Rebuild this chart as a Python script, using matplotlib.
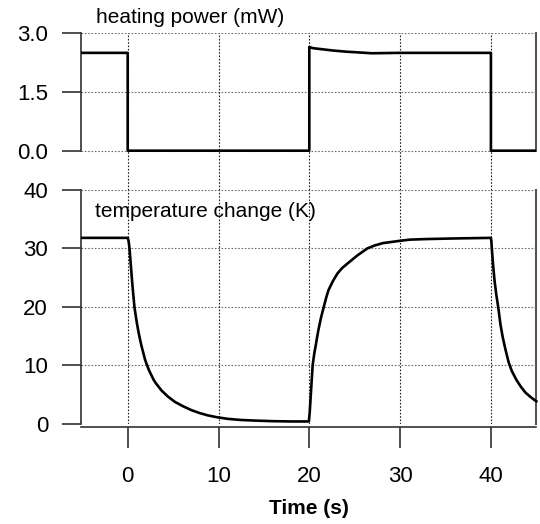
import matplotlib
matplotlib.use("Agg")
import matplotlib.pyplot as plt

plt.rcParams['font.family'] = ['Liberation Sans', 'DejaVu Sans']

# heating power (mW) vs time (s)
t_power = [-5, 0, 0, 20, 20, 20.4, 21.5, 22.6, 24.1, 26.9, 30, 35, 40, 40, 45]
power = [2.5, 2.5, 0, 0, 2.65, 2.62, 2.59, 2.56, 2.53, 2.49, 2.5, 2.5, 2.5, 0, 0]

# temperature change (K) vs time (s)
t_temp = [-5, -2, 0, 0.05, 0.12, 0.2, 0.3, 0.45, 0.6, 0.74, 0.88, 1.0, 1.15,
          1.29, 1.5, 1.7, 1.9, 2.1, 2.35, 2.6, 2.85, 3.1, 3.7, 4.4, 5.2, 6.1,
          7.0, 7.9, 8.8, 9.8, 11, 12.5, 14, 16, 18, 19.95,
          20.05, 20.2, 20.37, 20.55, 20.7, 20.85, 21.0, 21.3, 21.6, 21.85,
          22.1, 22.6, 23.1, 23.6, 24.2, 25.3, 26.4, 27.2, 28.1, 30, 31.1, 33,
          36, 40,
          40.05, 40.1, 40.25, 40.4, 40.6, 40.8, 41.05, 41.3, 41.6, 41.95,
          42.3, 42.8, 43.3, 43.8, 44.4, 45]
temp = [31.8, 31.8, 31.8, 31.6, 31.0, 30.0, 28.0, 25.0, 22.3, 20.0, 18.5,
        17.3, 16.0, 14.9, 13.4, 12.2, 11.0, 10.1, 9.1, 8.3, 7.5, 6.9, 5.7,
        4.65, 3.7, 2.95, 2.3, 1.8, 1.4, 1.08, 0.8, 0.6, 0.5, 0.4, 0.35, 0.35,
        2.0, 5.8, 10.0, 12.0, 13.3, 14.7, 16.0, 18.2, 20.0, 21.5,
        22.8, 24.4, 25.7, 26.6, 27.4, 28.8, 30.0, 30.5, 30.9, 31.3, 31.5, 31.6,
        31.7, 31.8,
        31.2, 30.0, 27.0, 24.5, 22.0, 20.0, 17.0, 14.8, 12.7, 10.5,
        9.0, 7.5, 6.3, 5.3, 4.5, 3.8]

x_ticks = [0, 10, 20, 30, 40]
power_ticks = [0, 1.5, 3.0]
power_labels = ['0.0', '1.5', '3.0']
temp_ticks = [0, 10, 20, 30, 40]

W, H = 540, 524
fs = 15
tick_fs = 16
axis_col = '#303030'
grid_style = dict(linestyle=(0, (1.5, 1.5)), linewidth=0.8, zorder=0)

fig = plt.figure(figsize=(W / 100, H / 100), dpi=100)
left = 81.4 / W
width = (536.3 - 81.4) / W
ax1 = fig.add_axes([left, (H - 190) / H, width, (190 - 33.3) / H])
ax2 = fig.add_axes([left, (H - 423.5) / H, width, (423.5 - 190) / H])

for ax in (ax1, ax2):
    ax.set_xlim(-5.1, 45.0)
    ax.spines['top'].set_visible(False)
    ax.spines['right'].set_color('#555555')
    ax.spines['right'].set_linewidth(1.5)
    ax.spines['left'].set_color(axis_col)
    ax.spines['left'].set_linewidth(1.2)
    ax.tick_params(axis='y', direction='out', length=14, width=1.2,
                   color=axis_col, pad=10, labelsize=tick_fs)
    ax.set_facecolor('none')

# top panel: heating power
ax1.set_ylim(-1.005, 3.0)
ax1.spines['bottom'].set_visible(False)
ax1.spines['left'].set_bounds(0, 3)
ax1.spines['right'].set_bounds(0, 3)
ax1.set_yticks(power_ticks)
ax1.set_yticklabels(power_labels)
ax1.set_xticks([])
for y in power_ticks:
    ax1.axhline(y, color='#707070', **grid_style)
for x in x_ticks:
    ax1.plot([x, x], [-1.005, 3.0], color='#222222', **grid_style)
ax1.plot(t_power, power, color='black', linewidth=1.9, zorder=3)
ax1.text(0.033, 1.0676, 'heating power (mW)', transform=ax1.transAxes,
         fontsize=fs, va='baseline', ha='left')

# bottom panel: temperature change
ax2.set_ylim(0, 40)
ax2.spines['left'].set_bounds(0, 40)
ax2.spines['right'].set_bounds(0, 40)
ax2.spines['bottom'].set_position(('outward', 2.5))
ax2.spines['bottom'].set_color(axis_col)
ax2.spines['bottom'].set_linewidth(1.2)
ax2.set_yticks(temp_ticks)
ax2.set_xticks(x_ticks)
ax2.tick_params(axis='x', direction='out', length=15, width=1.2,
                color=axis_col, pad=13, labelsize=tick_fs)
for y in temp_ticks[1:]:
    ax2.axhline(y, color='#707070', **grid_style)
for x in x_ticks:
    ax2.axvline(x, color='#222222', **grid_style)
ax2.plot(t_temp, temp, color='black', linewidth=1.9, zorder=3, clip_on=False)
ax2.text(0.030, 0.8857, 'temperature change (K)', transform=ax2.transAxes,
         fontsize=fs, va='baseline', ha='left')
ax2.set_xlabel('Time (s)', fontsize=fs, fontweight='bold', labelpad=9)

fig.savefig('out.png', dpi=100)
